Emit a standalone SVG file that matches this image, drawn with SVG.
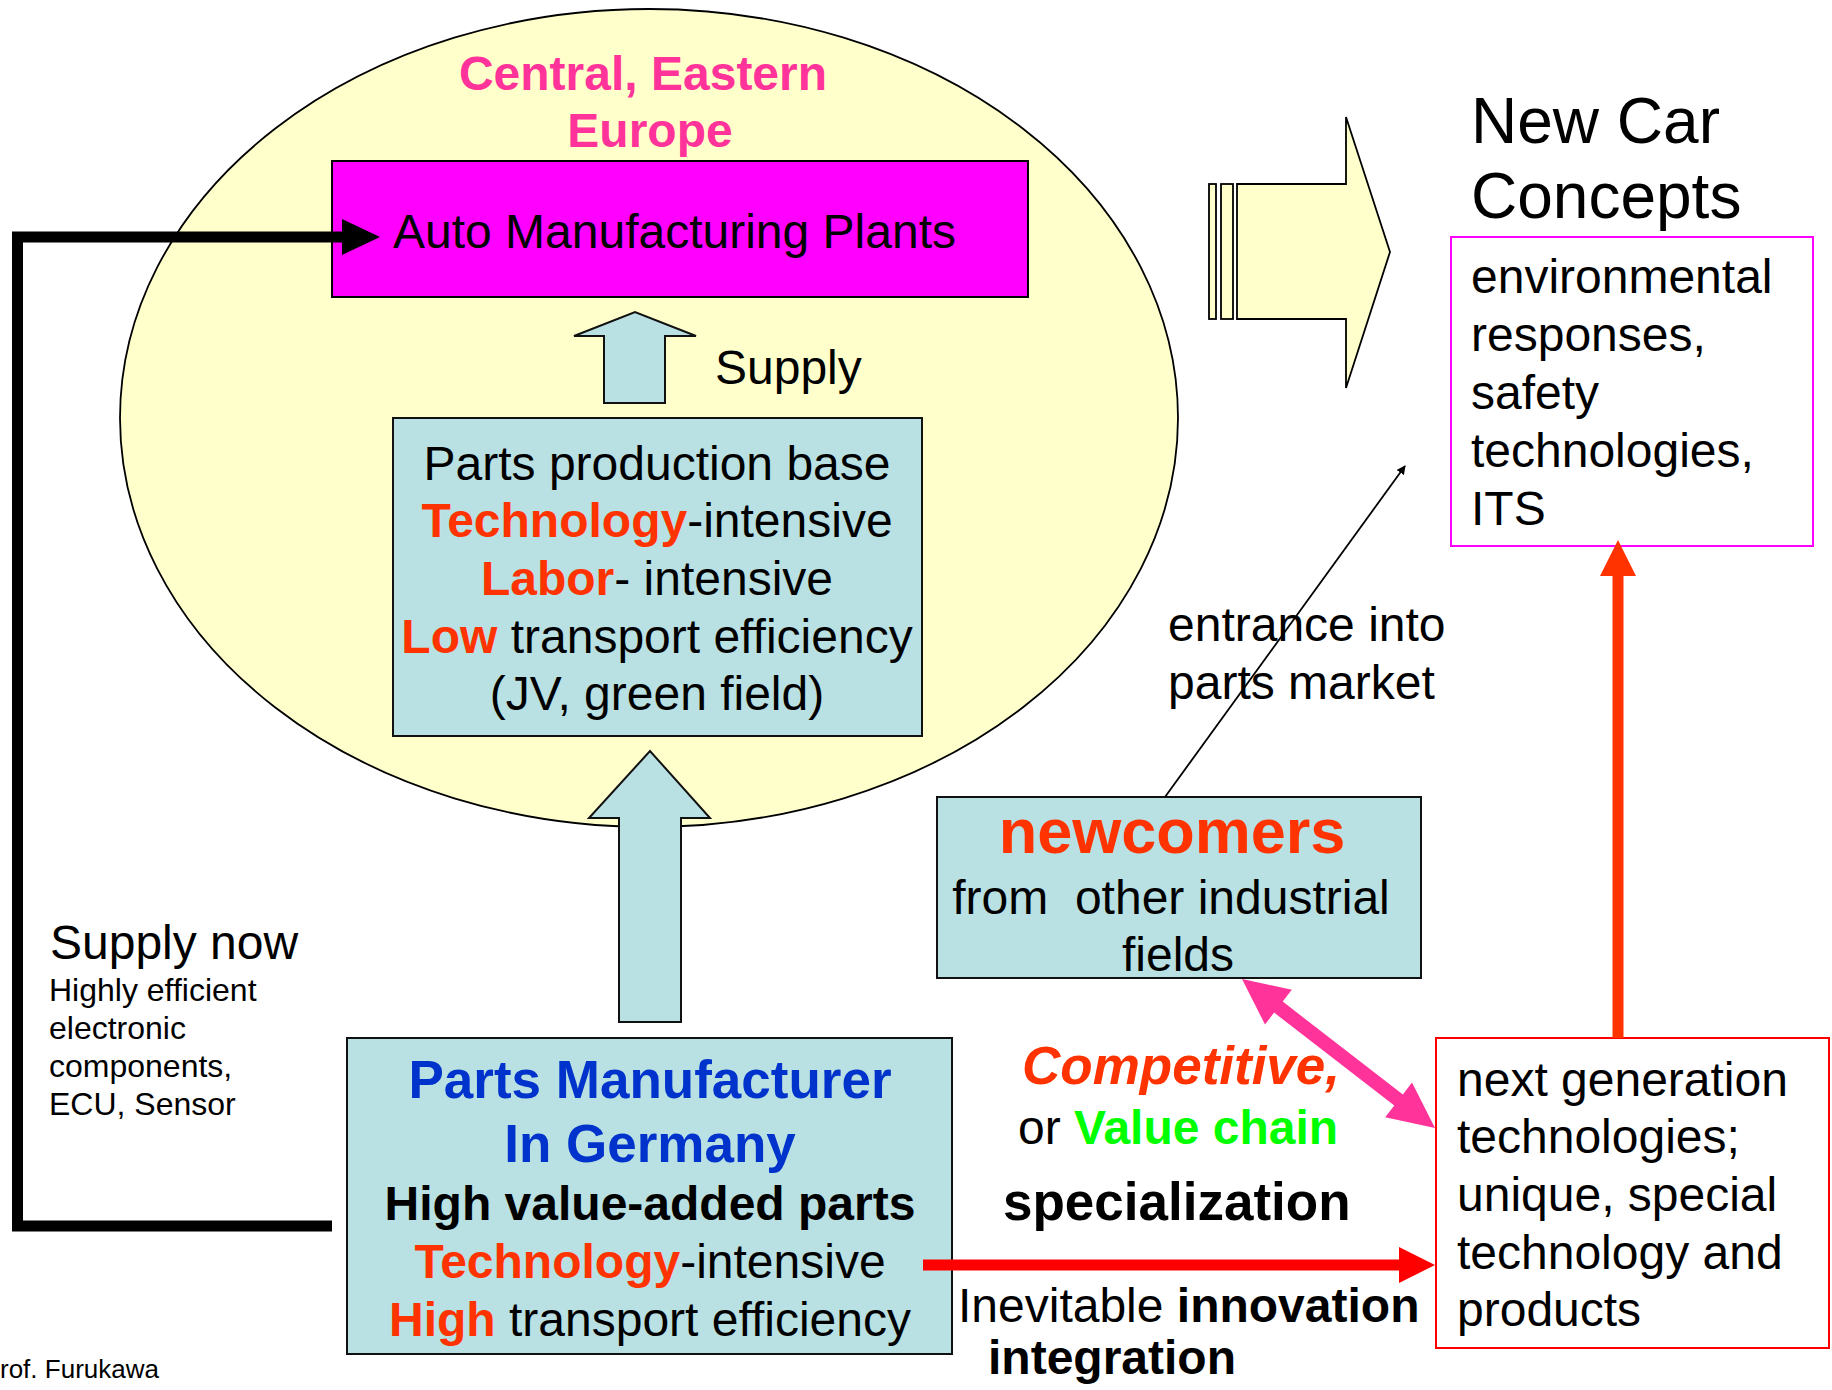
<svg xmlns="http://www.w3.org/2000/svg" width="1832" height="1390" viewBox="0 0 1832 1390">
<style>
text{font-family:"Liberation Sans",Arial,sans-serif;fill:#000}
.f48{font-size:48px}
.b{font-weight:bold}
.red{fill:#FF3300}
.blue{fill:#0033CC}
.pink{fill:#FF3399}
.green{fill:#00FF00}
.box{fill:#B9E0E3;stroke:#111;stroke-width:2}
.harrow{fill:#B9E0E3;stroke:#111;stroke-width:2}
</style>
<defs>
<marker id="thinHead" viewBox="0 0 10 10" refX="9" refY="5" markerWidth="9" markerHeight="9" orient="auto" markerUnits="userSpaceOnUse">
<path d="M0,0 L10,5 L0,10 z" fill="#000"/>
</marker>
</defs>
<rect width="1832" height="1390" fill="#fff"/>

<g id="region-ellipse">
<ellipse cx="649" cy="418" rx="529" ry="409" fill="#FFFFCC" stroke="#000" stroke-width="1.8"/>
<text class="b pink" font-size="48" x="643" y="90" text-anchor="middle">Central, Eastern</text>
<text class="b pink" font-size="48" x="650" y="147" text-anchor="middle">Europe</text>
</g>

<g id="auto-plants">
<rect x="332" y="161" width="696" height="136" fill="#FF00FF" stroke="#000" stroke-width="2"/>
<text class="f48" x="393" y="248">Auto Manufacturing Plants</text>
</g>

<g id="parts-production-base">
<rect class="box" x="393" y="418" width="529" height="318"/>
<text class="f48" x="657" y="480" text-anchor="middle">Parts production base</text>
<text class="f48" x="657" y="537" text-anchor="middle"><tspan class="b red">Technology</tspan>-intensive</text>
<text class="f48" x="657" y="595" text-anchor="middle"><tspan class="b red">Labor</tspan>- intensive</text>
<text class="f48" x="657" y="653" text-anchor="middle"><tspan class="b red">Low</tspan> transport efficiency</text>
<text class="f48" x="657" y="710" text-anchor="middle">(JV, green field)</text>
</g>

<g id="parts-manufacturer-germany">
<rect class="box" x="347" y="1038" width="605" height="316"/>
<text class="b blue" font-size="53" x="650" y="1098" text-anchor="middle">Parts Manufacturer</text>
<text class="b blue" font-size="53" x="650" y="1162" text-anchor="middle">In Germany</text>
<text class="f48 b" x="650" y="1220" text-anchor="middle">High value-added parts</text>
<text class="f48" x="650" y="1278" text-anchor="middle"><tspan class="b red">Technology</tspan>-intensive</text>
<text class="f48" x="650" y="1336" text-anchor="middle"><tspan class="b red">High</tspan> transport efficiency</text>
</g>

<g id="newcomers">
<rect class="box" x="937" y="797" width="484" height="181"/>
<text class="b red" font-size="63" x="1172" y="853" text-anchor="middle">newcomers</text>
<text class="f48" x="1171" y="914" text-anchor="middle" style="white-space:pre">from  other industrial</text>
<text class="f48" x="1178" y="971" text-anchor="middle">fields</text>
</g>

<g id="new-car-concepts">
<text font-size="64" x="1471" y="143">New Car</text>
<text font-size="64" x="1471" y="218">Concepts</text>
<rect x="1451" y="237" width="362" height="309" fill="#fff" stroke="#FF00FF" stroke-width="2"/>
<text class="f48" x="1471" y="293">environmental</text>
<text class="f48" x="1471" y="351">responses,</text>
<text class="f48" x="1471" y="409">safety</text>
<text class="f48" x="1471" y="467">technologies,</text>
<text class="f48" x="1471" y="525">ITS</text>
</g>

<g id="next-generation">
<rect x="1436" y="1038" width="393" height="310" fill="#fff" stroke="#FF0000" stroke-width="2"/>
<text class="f48" x="1457" y="1096">next generation</text>
<text class="f48" x="1457" y="1153">technologies;</text>
<text class="f48" x="1457" y="1211">unique, special</text>
<text class="f48" x="1457" y="1269">technology and</text>
<text class="f48" x="1457" y="1326">products</text>
</g>

<g id="labels">
<text class="f48" x="715" y="384">Supply</text>
<text class="f48" x="50" y="959">Supply now</text>
<text font-size="32" x="49" y="1001">Highly efficient</text>
<text font-size="32" x="49" y="1039">electronic</text>
<text font-size="32" x="49" y="1077">components,</text>
<text font-size="32" x="49" y="1115">ECU, Sensor</text>
<text font-size="26" x="0" y="1378">rof. Furukawa</text>
<text class="f48" x="1168" y="641">entrance into</text>
<text class="f48" x="1168" y="699">parts market</text>
<text class="b red" font-size="53" font-style="italic" x="1022" y="1084">Competitive,</text>
<text class="f48" x="1018" y="1144">or <tspan class="b green">Value chain</tspan></text>
<text class="b" font-size="53" x="1003" y="1220">specialization</text>
<text class="f48" x="958" y="1322">Inevitable <tspan class="b">innovation</tspan></text>
<text class="f48 b" x="988" y="1374">integration</text>
</g>

<g id="connectors">
<rect x="1209" y="184" width="7" height="135" fill="#FFFFCC" stroke="#000" stroke-width="1.8"/>
<rect x="1221" y="184" width="12" height="135" fill="#FFFFCC" stroke="#000" stroke-width="1.8"/>
<polygon points="1237,184 1346,184 1346,117 1390,252 1346,388 1346,319 1237,319" fill="#FFFFCC" stroke="#000" stroke-width="1.8"/>
<polygon class="harrow" points="604,403 604,336 574,336 635,312 696,336 665,336 665,403"/>
<polygon class="harrow" points="619,1022 619,818 589,818 650,751 710,818 681,818 681,1022"/>
<polyline points="332,1226 17.5,1226 17.5,237 345,237" fill="none" stroke="#000" stroke-width="11" stroke-linejoin="miter"/>
<polygon points="342,219 380,237 342,255" fill="#000"/>
<line x1="1165" y1="797" x2="1405" y2="466" stroke="#000" stroke-width="1.8" marker-end="url(#thinHead)"/>
<line x1="1618" y1="1038" x2="1618" y2="574" stroke="#FF3300" stroke-width="11"/>
<polygon points="1600,576 1618,540 1636,576" fill="#FF3300"/>
<line x1="923" y1="1265" x2="1401" y2="1265" stroke="#FF0000" stroke-width="11"/>
<polygon points="1399,1247 1435,1265 1399,1283" fill="#FF0000"/>
<polygon points="1242,979 1265,1024.5 1274.1,1012.6 1394.3,1105.4 1385.2,1117.3 1435,1128 1412,1082.5 1402.9,1094.4 1282.7,1001.6 1291.8,989.7" fill="#FF3399"/>
</g>
</svg>
